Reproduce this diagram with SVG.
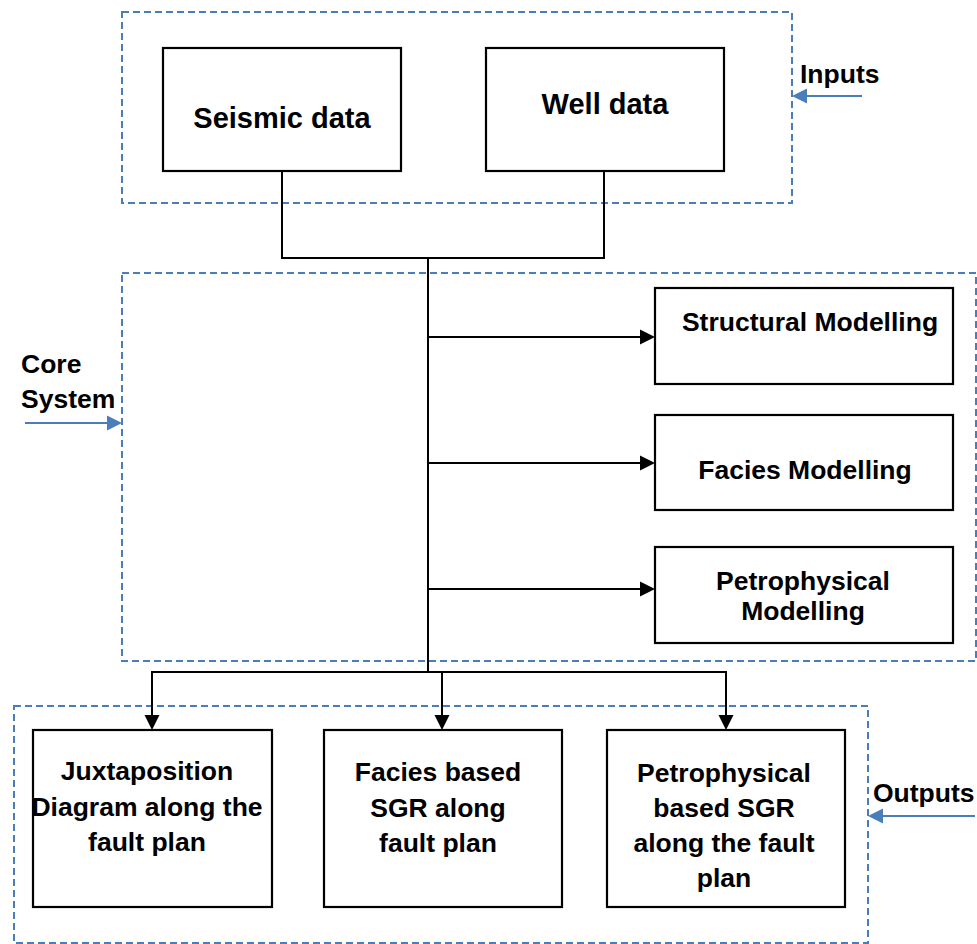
<svg xmlns="http://www.w3.org/2000/svg" width="977" height="944" viewBox="0 0 977 944">
<style>
.grp{fill:none;stroke:#4a7ebb;stroke-width:2;stroke-dasharray:7 4}
.box{fill:#fff;stroke:#000;stroke-width:2.2}
.ln{fill:none;stroke:#000;stroke-width:2}
.bl{fill:none;stroke:#4a7ebb;stroke-width:2}
.bh{fill:#4a7ebb}
text{font-family:"Liberation Sans",Arial,sans-serif;font-weight:bold;font-size:26.5px;fill:#000;text-anchor:middle}
.big{font-size:29px}
.lab{text-anchor:start}
</style>
<rect width="977" height="944" fill="#fff"/>
<g id="groups">
<rect class="grp" x="122" y="12" width="670" height="191"/>
<rect class="grp" x="122" y="273" width="854" height="388"/>
<rect class="grp" x="14" y="706" width="854" height="237"/>
</g>
<g id="connectors">
<polyline class="ln" points="282,171 282,258 604,258 604,171"/>
<line class="ln" x1="428" y1="258" x2="428" y2="672"/>
<path class="ln" d="M428,337 H641"/><path d="M640,329.5 L655,337 L640,344.5 Z"/>
<path class="ln" d="M428,463 H641"/><path d="M640,455.5 L655,463 L640,470.5 Z"/>
<path class="ln" d="M428,589 H641"/><path d="M640,581.5 L655,589 L640,596.5 Z"/>
<polyline class="ln" points="152,716 152,672 726,672 726,716"/>
<line class="ln" x1="442" y1="672" x2="442" y2="716"/>
<path d="M144.5,715 L152,730 L159.5,715 Z"/>
<path d="M434.5,715 L442,730 L449.5,715 Z"/>
<path d="M718.5,715 L726,730 L733.5,715 Z"/>
<path class="bl" d="M862,96 H806"/><path class="bh" d="M807,88.5 L792,96 L807,103.5 Z"/>
<path class="bl" d="M25,423 H108"/><path class="bh" d="M107,415.5 L122,423 L107,430.5 Z"/>
<path class="bl" d="M975,816 H882"/><path class="bh" d="M883,808.5 L868,816 L883,823.5 Z"/>
</g>
<g id="seismic"><rect class="box" x="163" y="48" width="238" height="123"/><text class="big" x="282" y="128">Seismic data</text></g>
<g id="well"><rect class="box" x="486" y="48" width="238" height="123"/><text class="big" x="605" y="114">Well data</text></g>
<g id="structural"><rect class="box" x="655" y="288" width="298" height="96"/><text x="810" y="331">Structural Modelling</text></g>
<g id="facies"><rect class="box" x="655" y="415" width="298" height="95"/><text x="805" y="479">Facies Modelling</text></g>
<g id="petro"><rect class="box" x="655" y="547" width="298" height="96"/><text x="803" y="590">Petrophysical</text><text x="803" y="620">Modelling</text></g>
<g id="juxta"><rect class="box" x="33" y="730" width="239" height="177"/><text x="147" y="780">Juxtaposition</text><text x="147" y="816">Diagram along the</text><text x="147" y="851">fault plan</text></g>
<g id="faciesSGR"><rect class="box" x="324" y="730" width="238" height="177"/><text x="438" y="781">Facies based</text><text x="438" y="817">SGR along</text><text x="438" y="852">fault plan</text></g>
<g id="petroSGR"><rect class="box" x="607" y="730" width="238" height="177"/><text x="724" y="782">Petrophysical</text><text x="724" y="817">based SGR</text><text x="724" y="852">along the fault</text><text x="724" y="887">plan</text></g>
<g id="labels">
<text class="lab" x="800" y="83">Inputs</text>
<text class="lab" x="21" y="373">Core</text>
<text class="lab" x="21" y="408">System</text>
<text class="lab" x="873" y="802">Outputs</text>
</g>
</svg>
